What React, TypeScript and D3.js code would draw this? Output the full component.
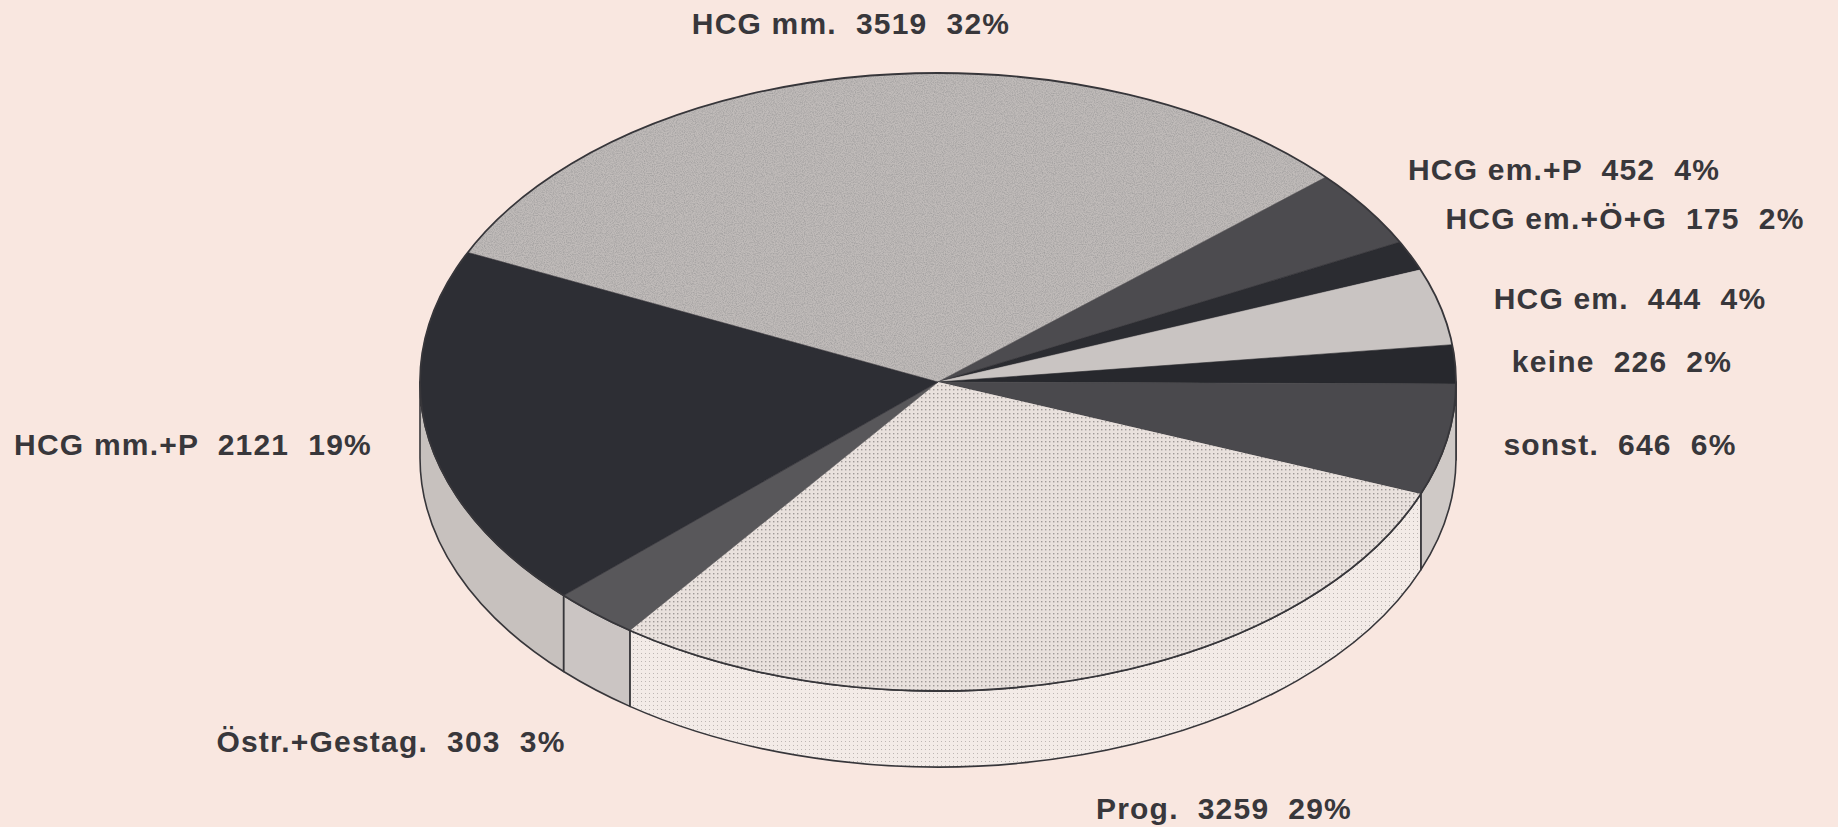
import React, { useEffect, useRef } from 'react';
import * as d3 from 'd3';

// slices, clockwise from the upper left boundary
const categories = ['HCG mm.', 'HCG em.+P', 'HCG em.+Ö+G', 'HCG em.', 'keine', 'sonst.', 'Prog.', 'Östr.+Gestag.', 'HCG mm.+P'];
const counts = [3519, 452, 175, 444, 226, 646, 3259, 303, 2121];
const percents = [32, 4, 2, 4, 2, 6, 29, 3, 19];

// styling per slice
const topFills = ['url(#grain)', '#4c4b4f', '#2b2c31', '#c9c4c2', '#27282d', '#4a494d', 'url(#dots)', '#58575a', '#2d2e34'];
const sideFills = ['#c4bfbd', '#bdb8b6', '#bdb8b6', '#cdc8c6', '#cfc9c6', '#cfc9c6', 'url(#dotsLight)', '#cbc5c3', '#c7c1be'];

// label anchors (centre x, baseline y)
const labelX = [851, 1564, 1625, 1630, 1622, 1620, 1224, 391, 193];
const labelY = [34, 180, 229, 309, 372, 455, 819, 752, 455];

const W = 1838;
const H = 827;

export default function App() {
  const svgRef = useRef<SVGSVGElement>(null);

  useEffect(() => {
    if (!svgRef.current) return;
    const svg = d3.select(svgRef.current);
    svg.selectAll('*').remove();

    const cx = 938, cy = 382, rx = 518, ry = 309, depth = 76;
    const start = (204.8 * Math.PI) / 180;

    const defs = svg.append('defs');
    const dots = defs.append('pattern').attr('id', 'dots').attr('patternUnits', 'userSpaceOnUse')
      .attr('width', 4).attr('height', 4);
    dots.append('rect').attr('width', 4).attr('height', 4).attr('fill', '#e9e1dd');
    dots.append('rect').attr('x', 1).attr('y', 1).attr('width', 1.4).attr('height', 1.4).attr('fill', '#9f9997');
    const dotsLight = defs.append('pattern').attr('id', 'dotsLight').attr('patternUnits', 'userSpaceOnUse')
      .attr('width', 4).attr('height', 4);
    dotsLight.append('rect').attr('width', 4).attr('height', 4).attr('fill', '#f3ebe7');
    dotsLight.append('rect').attr('x', 1).attr('y', 1).attr('width', 1).attr('height', 1).attr('fill', '#bdb6b3');

    const grain = defs.append('pattern').attr('id', 'grain').attr('patternUnits', 'userSpaceOnUse')
      .attr('width', W).attr('height', H);
    grain.append('rect').attr('width', W).attr('height', H).attr('fill', '#c0bbb9');
    grain.append('rect').attr('width', W).attr('height', H).attr('filter', 'url(#noise)');
    const noise = defs.append('filter').attr('id', 'noise').attr('x', 0).attr('y', 0).attr('width', 1).attr('height', 1);
    noise.append('feTurbulence').attr('type', 'fractalNoise').attr('baseFrequency', 0.9).attr('numOctaves', 2).attr('seed', 3);
    noise.append('feColorMatrix').attr('type', 'matrix')
      .attr('values', '0 0 0 0 0.35  0 0 0 0 0.34  0 0 0 0 0.34  0 0 0 -1.8 1.15');

    svg.append('rect').attr('width', W).attr('height', H).attr('fill', '#f9e7e0');

    const pie = d3.pie<number>().sort(null).value(d => d);
    const arcs = pie(counts);

    const pt = (t: number, dy = 0) => [cx + rx * Math.cos(t), cy + ry * Math.sin(t) + dy];
    const f = (p: number[]) => `${p[0].toFixed(2)},${p[1].toFixed(2)}`;

    // side walls, only the front half of the ellipse is visible
    const g = svg.append('g');
    arcs.forEach((a, i) => {
      const t1 = start + a.startAngle;
      const t2 = start + a.endAngle;
      for (let k = 0; k < 3; k++) {
        const lo = Math.max(t1, 2 * Math.PI * k);
        const hi = Math.min(t2, 2 * Math.PI * k + Math.PI);
        if (hi <= lo) continue;
        const d = `M${f(pt(lo))}A${rx},${ry} 0 0 1 ${f(pt(hi))}L${f(pt(hi, depth))}A${rx},${ry} 0 0 0 ${f(pt(lo, depth))}Z`;
        g.append('path').attr('d', d).attr('fill', sideFills[i])
          .attr('stroke', '#37363a').attr('stroke-width', 1.6).attr('stroke-linejoin', 'round');
      }
    });

    // top faces
    arcs.forEach((a, i) => {
      const t1 = start + a.startAngle;
      const t2 = start + a.endAngle;
      const large = t2 - t1 > Math.PI ? 1 : 0;
      const d = `M${cx},${cy}L${f(pt(t1))}A${rx},${ry} 0 ${large} 1 ${f(pt(t2))}Z`;
      g.append('path').attr('d', d).attr('fill', topFills[i])
        .attr('stroke', topFills[i].startsWith('url') ? 'none' : topFills[i]).attr('stroke-width', 0.6);
    });

    g.append('ellipse').attr('cx', cx).attr('cy', cy).attr('rx', rx).attr('ry', ry)
      .attr('fill', 'none').attr('stroke', '#37363a').attr('stroke-width', 1.8);

    // labels
    svg.append('g').selectAll('text').data(categories).join('text')
      .attr('x', (_, i) => labelX[i])
      .attr('y', (_, i) => labelY[i])
      .attr('text-anchor', 'middle')
      .style('white-space', 'pre')
      .attr('font-family', '"Liberation Sans", Arial, Helvetica, sans-serif')
      .attr('font-weight', 'bold')
      .attr('font-size', 30)
      .attr('letter-spacing', 1.2)
      .attr('fill', '#38373b')
      .text((d, i) => `${d}  ${counts[i]}  ${percents[i]}%`);
  }, []);

  return (
    <svg ref={svgRef} width={W} height={H} style={{ position: 'absolute', left: 0, top: 0 }} />
  );
}
